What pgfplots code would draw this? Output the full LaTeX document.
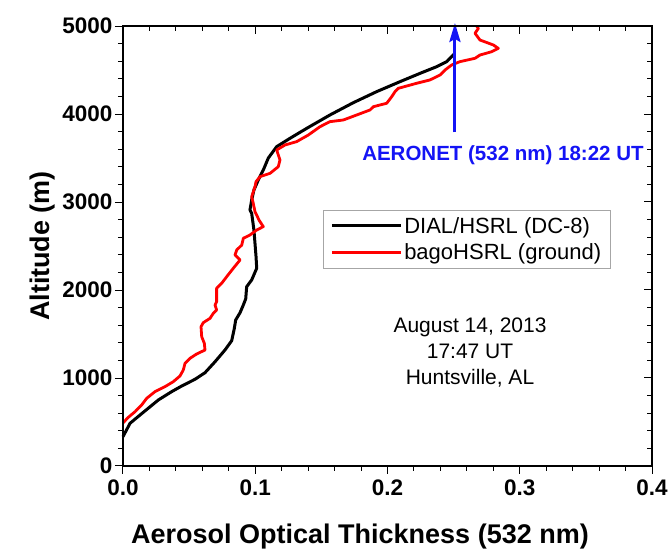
\documentclass[border=0pt]{standalone}
\usepackage{fontspec}
\setmainfont{Liberation Sans}
\usepackage{pgfplots}
\pgfplotsset{compat=1.18}
\usetikzlibrary{arrows.meta}

\definecolor{aeroblue}{RGB}{20,20,245}

\begin{document}
\begin{tikzpicture}
% fixed page frame around the plot box
\useasboundingbox (-123pt,-83pt) rectangle (547pt,466pt);

\pgfplotsset{
  aotframe/.style={
    scale only axis, width=529pt, height=440pt,
    xmin=0, xmax=0.4, ymin=0, ymax=5000,
    xtick={0,0.1,0.2,0.3,0.4}, ytick={0,1000,2000,3000,4000,5000},
    minor x tick num=4, minor y tick num=4,
    major tick length=8pt, minor tick length=5pt,
    axis line style={line width=1.2pt},
    every tick/.style={black, line width=1pt},
  }
}

\begin{axis}[
  aotframe,
  xtick pos=lower, ytick pos=left, tick align=outside,
  /pgf/number format/assume math mode=true,
  tick label style={font=\fontsize{22.5}{22.5}\selectfont\bfseries},
  xticklabel style={/pgf/number format/fixed, /pgf/number format/fixed zerofill, /pgf/number format/precision=1},
  yticklabel style={/pgf/number format/1000 sep={}, xshift=1pt},
  xticklabel shift=2pt,
  xlabel={Aerosol Optical Thickness (532 nm)},
  ylabel={Altitude (m)},
  label style={font=\fontsize{27}{27}\selectfont\bfseries},
  xlabel style={at={(axis description cs:0.448,-0.175)}, anchor=base},
  ylabel style={at={(axis description cs:-0.138,0.5)}, anchor=base},
  clip=false,
  legend style={at={(axis description cs:0.378,0.582)}, anchor=north west,
    draw=gray!70, line width=0.6pt, font=\fontsize{22}{24}\selectfont,
    inner xsep=7pt, inner ysep=5pt, /tikz/row sep=5pt,
    cells={anchor=west}},
  legend image code/.code={%
    \path (0pt,0pt) -- (19pt,0pt);
    \draw[#1, line width=3pt] (19pt,0pt) -- (69pt,0pt);},
]

% airborne DIAL/HSRL profile
\addplot[black, line width=3pt, line join=round] coordinates {
(0,333) (0.0053,485) (0.0129,580) (0.019,655) (0.0267,750) (0.0368,845)
(0.0444,909) (0.0544,985) (0.062,1060) (0.0696,1185) (0.0771,1318)
(0.0822,1424) (0.0842,1565) (0.0852,1659) (0.0885,1742) (0.091,1830)
(0.0928,1900) (0.0935,2037) (0.0973,2114) (0.1011,2247) (0.1006,2378)
(0.0998,2531) (0.099,2682) (0.0973,2872) (0.096,2909) (0.0973,3023)
(0.099,3136) (0.1023,3250) (0.1061,3364) (0.1099,3500) (0.1162,3629)
(0.1263,3724) (0.1389,3837) (0.1565,3989) (0.1742,4129) (0.1918,4254)
(0.2094,4367) (0.2246,4462) (0.2372,4538) (0.2448,4595) (0.2503,4680)
};
\addlegendentry{DIAL/HSRL (DC-8)}

% ground-based bagoHSRL profile
\addplot[red, line width=2.8pt, line join=round] coordinates {
(0,490) (0.004,553) (0.0091,617) (0.0141,693) (0.0179,769) (0.0242,845)
(0.0318,902) (0.038,958) (0.0431,1023) (0.0456,1091) (0.0469,1167)
(0.0507,1224) (0.0557,1273) (0.062,1318) (0.0615,1394) (0.0595,1470)
(0.059,1583) (0.0607,1629) (0.0658,1678) (0.0683,1735) (0.0708,1773)
(0.0696,1830) (0.0708,1867) (0.0708,1924) (0.0708,2019) (0.0746,2076)
(0.0784,2151) (0.0834,2247) (0.0885,2341) (0.0847,2398) (0.086,2455)
(0.0898,2511) (0.091,2588) (0.096,2625) (0.1011,2682) (0.1061,2720)
(0.1031,2788) (0.0998,2890) (0.0985,2985) (0.0973,3060) (0.0998,3174)
(0.1006,3231) (0.1036,3288) (0.1112,3326) (0.1174,3401) (0.1187,3477)
(0.1162,3591) (0.1225,3648) (0.1313,3686) (0.1401,3761) (0.149,3856)
(0.1565,3913) (0.1666,3932) (0.1767,3989) (0.1868,4046) (0.1893,4083)
(0.1994,4122) (0.2032,4197) (0.2057,4254) (0.2082,4292) (0.222,4349)
(0.2321,4387) (0.2397,4443) (0.2435,4500) (0.2485,4557) (0.2548,4595)
(0.2662,4633) (0.2699,4670) (0.2788,4708) (0.2838,4746) (0.2801,4784)
(0.2699,4841) (0.2662,4917) (0.2687,4973) (0.2674,5000)
};
\addlegendentry{bagoHSRL (ground)}

% column AOT from the AERONET sun photometer
\addplot[aeroblue, line width=3pt, forget plot,
  -{Stealth[length=19pt, width=11pt, inset=3pt]}]
  coordinates {(0.251,3790) (0.251,5035)};

\node[aeroblue, font=\fontsize{20.5}{20.5}\selectfont\bfseries]
  at (axis cs:0.2873,3534) {AERONET (532 nm) 18:22 UT};

\node[align=center, font=\fontsize{21}{26}\selectfont]
  at (axis cs:0.2624,1295) {August 14, 2013\\17:47 UT\\Huntsville, AL};
\end{axis}

% mirrored ticks on the top and right edges, pointing inwards
\begin{axis}[
  aotframe,
  xtick pos=upper, ytick pos=right, tick align=inside,
  xticklabels={}, yticklabels={},
]
\end{axis}
\end{tikzpicture}
\end{document}
